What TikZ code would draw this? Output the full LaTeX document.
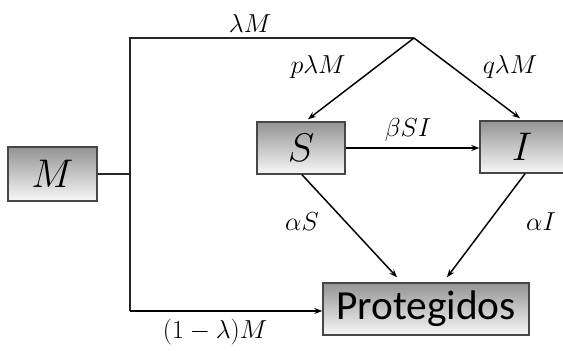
\RequirePackage{fix-cm}
\documentclass[tikz,border=0pt]{standalone}
\usepackage{fontspec}
\newfontfamily\calib{Carlito}
\usetikzlibrary{arrows.meta,calc}
\begin{document}
\begin{tikzpicture}[x=0.75pt,y=-0.75pt,
  box/.style={draw=black!72, line width=1.1pt, top color=black!42, bottom color=black!3, inner sep=0pt},
  big/.style={font=\fontsize{30}{32}\selectfont},
  lbl/.style={font=\fontsize{19.5}{21}\selectfont, inner sep=1pt},
  wire/.style={line width=0.8pt, draw=black!85},
  arr/.style={-{Stealth[length=6pt,width=4.5pt]}, line width=1.1pt}]
\useasboundingbox (0,0) rectangle (563,350);
\node[box, big, minimum width=66.75pt, minimum height=40.5pt] (M) at (52.5,174) {$M$};
\node[box, big, minimum width=66pt, minimum height=39pt] (S) at (301,148) {$S$};
\node[box, big, minimum width=63pt, minimum height=39pt] (I) at (522,147) {$I$};
\node[box, minimum width=154.5pt, minimum height=39pt, font=\calib\fontsize{31}{33}\selectfont] (P) at (426,309) {Protegidos};
\coordinate (j) at (130,174);
\coordinate (top) at (130,38);
\coordinate (br) at (414,38);
\coordinate (bot) at (130,311);
\draw[wire] (M.east) -- (j);
\draw[wire] (br) -- (top) -- (bot);
\draw[arr] (bot) -- (P.west |- bot);
\draw[arr] (br) -- ($(S.north)+(7,-2)$);
\draw[arr] (br) -- ($(I.north)+(-2,-2)$);
\draw[arr] (S.east) -- (I.west |- S.east);
\draw[arr] ($(S.south)+(1,0)$) -- ($(P.north)+(-29,-5)$);
\draw[arr] ($(I.south)+(3,0)$) -- ($(P.north)+(21,-5)$);
\node[lbl] (lM) at (250,23) {$\lambda M$};
\node[lbl] (plM) at (318,67) {$p\lambda M$};
\node[lbl] (qlM) at (510,67) {$q\lambda M$};
\node[lbl] (bSI) at (408,130) {$\beta SI$};
\node[lbl] (aS) at (302,222) {$\alpha S$};
\node[lbl] (aI) at (541,222) {$\alpha I$};
\node[lbl] (lmM) at (215,332) {$(1-\lambda)M$};
\end{tikzpicture}
\end{document}
